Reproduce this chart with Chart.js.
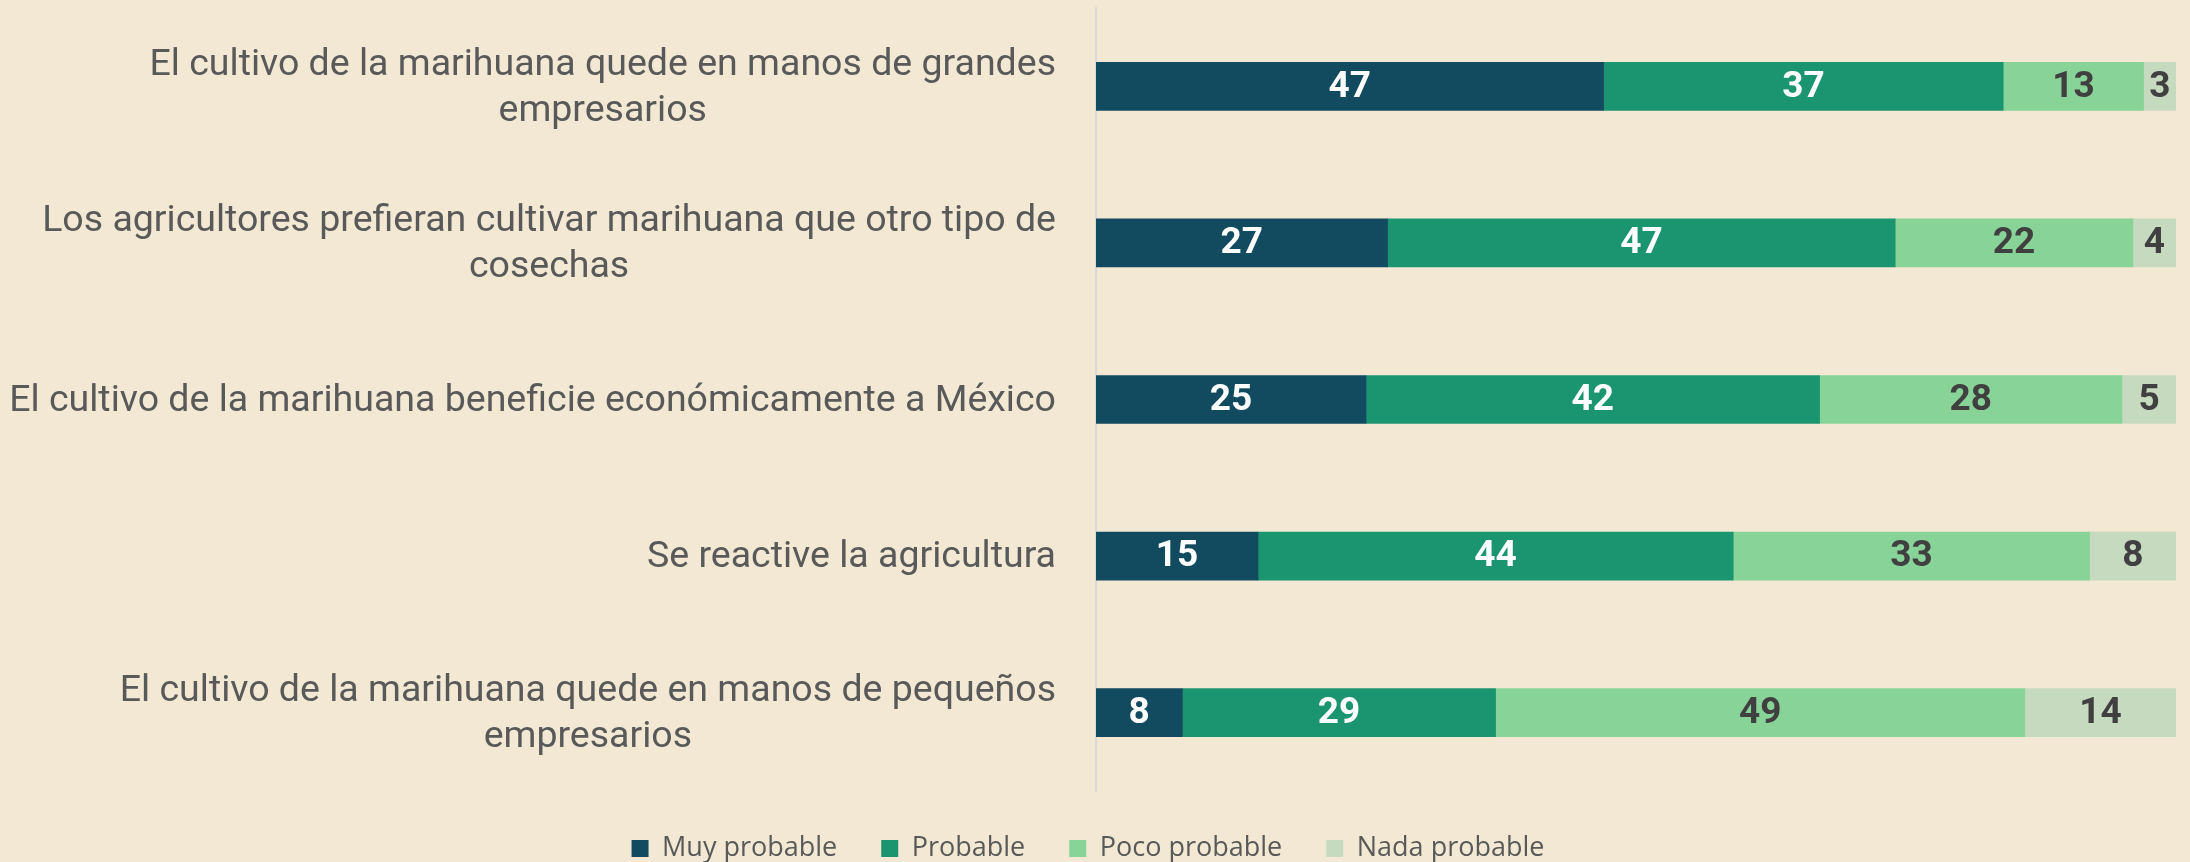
<!DOCTYPE html>
<html>
<head>
<meta charset="utf-8">
<script src="https://cdn.jsdelivr.net/npm/chart.js@4.4.1/dist/chart.umd.min.js"></script>
<style>
  html, body { margin: 0; padding: 0; background: #f2e8d3; }
  #wrap { width: 2190px; height: 862px; position: relative; }
</style>
</head>
<body>
<div id="wrap"><canvas id="chart"></canvas></div>
<script>
const categories = [
  ['El cultivo de la marihuana quede en manos de grandes', 'empresarios'],
  ['Los agricultores prefieran cultivar marihuana que otro tipo de', 'cosechas'],
  ['El cultivo de la marihuana beneficie económicamente a México'],
  ['Se reactive la agricultura'],
  ['El cultivo de la marihuana quede en manos de pequeños', 'empresarios']
];
const seriesNames = ['Muy probable', 'Probable', 'Poco probable', 'Nada probable'];
const muyProbable = [47, 27, 25, 15, 8];
const probable = [37, 47, 42, 44, 29];
const pocoProbable = [13, 22, 28, 33, 49];
const nadaProbable = [3, 4, 5, 8, 14];

const colors = ['#124b5f', '#1b9570', '#88d498', '#c6dabf'];
const labelColors = ['#ffffff', '#ffffff', '#404040', '#404040'];

// value labels centred in each bar segment
const valueLabels = {
  id: 'valueLabels',
  afterDatasetsDraw(chart) {
    const ctx = chart.ctx;
    ctx.save();
    ctx.font = 'bold 37px Roboto';
    ctx.textAlign = 'center';
    ctx.textBaseline = 'middle';
    chart.data.datasets.forEach((ds, i) => {
      const meta = chart.getDatasetMeta(i);
      meta.data.forEach((bar, j) => {
        ctx.fillStyle = labelColors[i];
        ctx.fillText(ds.data[j], (bar.x + bar.base) / 2, bar.y + 1);
      });
    });
    ctx.restore();
  }
};

// category labels: block right aligned, lines centred inside the block
const categoryLabels = {
  id: 'categoryLabels',
  afterDraw(chart) {
    const ctx = chart.ctx;
    const scale = chart.scales.y;
    const lineH = 46;
    ctx.save();
    ctx.font = '37.5px Roboto';
    ctx.fillStyle = '#595959';
    ctx.textAlign = 'center';
    ctx.textBaseline = 'middle';
    chart.data.labels.forEach((lines, i) => {
      const w = Math.max(...lines.map(l => ctx.measureText(l).width));
      const cx = scale.right - 40 - w / 2;
      const cy = scale.getPixelForValue(i) - (lines.length - 1) * lineH / 2 + 2;
      lines.forEach((l, k) => ctx.fillText(l, cx, cy + k * lineH));
    });
    ctx.restore();
  }
};

const ctx = document.getElementById('chart').getContext('2d');
new Chart(ctx, {
  type: 'bar',
  data: {
    labels: categories,
    datasets: [muyProbable, probable, pocoProbable, nadaProbable].map((d, i) => ({
      label: seriesNames[i],
      data: d,
      backgroundColor: colors[i],
      barThickness: 48
    }))
  },
  options: {
    indexAxis: 'y',
    responsive: true,
    maintainAspectRatio: false,
    animation: false,
    layout: { padding: { top: 8, right: 14, bottom: -10, left: 0 } },
    scales: {
      x: { stacked: true, display: false, min: 0, max: 100 },
      y: {
        stacked: true,
        grid: { display: false },
        border: { display: true, color: '#d9d9d9', width: 2 },
        ticks: { display: false },
        afterFit(scale) { scale.width = 1096; }
      }
    },
    plugins: {
      legend: {
        position: 'bottom',
        labels: {
          font: { family: 'Open Sans', size: 27 },
          color: '#595959',
          boxWidth: 17,
          boxHeight: 17,
          padding: 44
        }
      },
      tooltip: { enabled: false }
    }
  },
  plugins: [valueLabels, categoryLabels]
});
</script>
</body>
</html>
